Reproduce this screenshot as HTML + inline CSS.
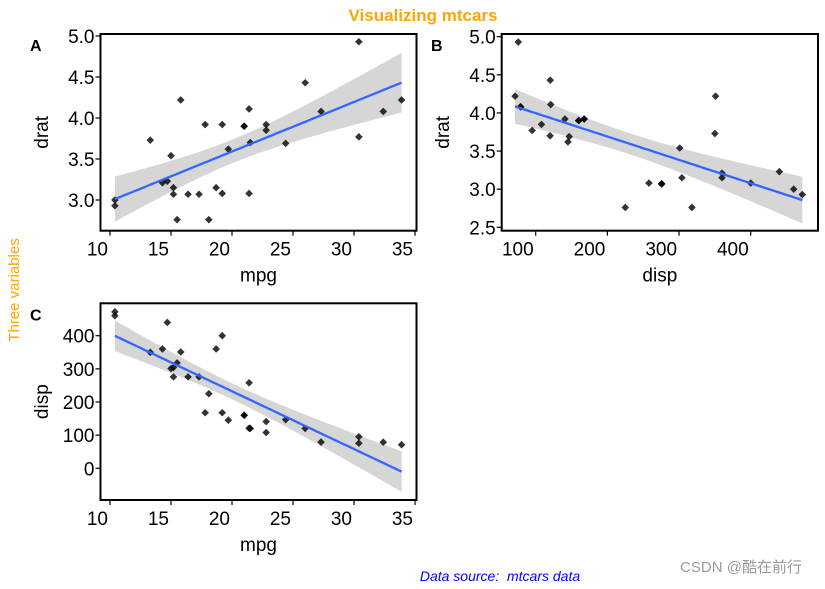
<!DOCTYPE html>
<html><head><meta charset="utf-8"><style>
body{margin:0;background:#fff;width:825px;height:584px;overflow:hidden;font-family:"Liberation Sans",sans-serif}
svg text{font-family:"Liberation Sans","Noto Sans CJK SC",sans-serif}
</style></head><body>
<svg id="chart" width="825" height="584" xmlns="http://www.w3.org/2000/svg">
<text x="423" y="21" text-anchor="middle" font-size="17" font-weight="bold" fill="#FFA500">Visualizing mtcars</text>
<text transform="translate(19,290) rotate(-90)" text-anchor="middle" font-size="15" fill="#FFA500">Three variables</text>
<text x="500" y="581" text-anchor="middle" font-size="14" font-style="italic" fill="#0000FF" xml:space="preserve">Data source:  mtcars data</text>
<text x="741" y="572" text-anchor="middle" font-size="15" fill="#999">CSDN @酷在前行</text>
</svg>
<script>
const mpg=[21.0,21.0,22.8,21.4,18.7,18.1,14.3,24.4,22.8,19.2,17.8,16.4,17.3,15.2,10.4,10.4,14.7,32.4,30.4,33.9,21.5,15.5,15.2,13.3,19.2,27.3,26.0,30.4,15.8,19.7,15.0,21.4];
const disp=[160,160,108,258,360,225,360,146.7,140.8,167.6,167.6,275.8,275.8,275.8,472,460,440,78.7,75.7,71.1,120.1,318,304,350,400,79,120.3,95.1,351,145,301,121];
const drat=[3.90,3.90,3.85,3.08,3.15,2.76,3.21,3.69,3.92,3.92,3.92,3.07,3.07,3.07,2.93,3.00,3.23,4.08,4.93,4.22,3.70,2.76,3.15,3.73,3.08,4.08,4.43,3.77,4.22,3.62,3.54,4.11];
const ticksMpg=[10,15,20,25,30,35];
const ticksDrat=[3.0,3.5,4.0,4.5,5.0];
const ticksDratB=[2.5,3.0,3.5,4.0,4.5,5.0];
const ticksDisp=[100,200,300,400];
const ticksDispY=[0,100,200,300,400];
const NS="http://www.w3.org/2000/svg";
const svg=document.getElementById('chart');
function el(t,a,p){const e=document.createElementNS(NS,t);for(const k in a)e.setAttribute(k,a[k]);(p||svg).appendChild(e);return e;}
function lin(d0,d1,r0,r1){return v=>r0+(v-d0)*(r1-r0)/(d1-d0);}
function panel(cfg){
 const g=el('g',{});
 
 
 const {L,R,T,B}=cfg, sx=cfg.sx, sy=cfg.sy, xs=cfg.x, ys=cfg.y;
 const clip=el('clipPath',{id:'c'+cfg.tag},g);el('rect',{x:L,y:T,width:R-L,height:B-T},clip);
 const n=xs.length,mx=xs.reduce((a,b)=>a+b)/n,my=ys.reduce((a,b)=>a+b)/n;
 let sxx=0,sxy=0;for(let i=0;i<n;i++){sxx+=(xs[i]-mx)**2;sxy+=(xs[i]-mx)*(ys[i]-my);}
 const b=sxy/sxx,a=my-b*mx;let sse=0;for(let i=0;i<n;i++)sse+=(ys[i]-a-b*xs[i])**2;
 const s=Math.sqrt(sse/(n-2)),t=2.042;
 const x0=Math.min(...xs),x1=Math.max(...xs);const up=[],lo=[],ln=[];
 for(let k=0;k<=80;k++){const x=x0+(x1-x0)*k/80,f=a+b*x,se=s*Math.sqrt(1/n+(x-mx)**2/sxx);
  up.push(sx(x).toFixed(1)+','+sy(f+t*se).toFixed(1));lo.unshift(sx(x).toFixed(1)+','+sy(f-t*se).toFixed(1));ln.push(sx(x).toFixed(1)+','+sy(f).toFixed(1));}
 const band=el('polygon',{points:up.concat(lo).join(' '),fill:'#999','fill-opacity':0.4,'clip-path':'url(#c'+cfg.tag+')'},g);
 
 
 for(let i=0;i<n;i++){const px=sx(xs[i]),py=sy(ys[i]);
  const p=el('polygon',{points:`${px},${py-3.8} ${px+3.8},${py} ${px},${py+3.8} ${px-3.8},${py}`,fill:'#000','fill-opacity':0.8},g);
  
  }
 const line=el('polyline',{points:ln.join(' '),fill:'none',stroke:'#3366FF','stroke-width':2.3},g);
 
 
 el('rect',{x:L,y:T,width:R-L,height:B-T,fill:'none',stroke:'#000','stroke-width':2},g);
 cfg.xt.forEach(v=>{const X=sx(v);el('line',{x1:X,x2:X,y1:B,y2:B+5,stroke:'#000','stroke-width':1.2},g);
  const tx=el('text',{x:X-2,y:B+25,'text-anchor':'end','font-size':19,fill:'#000'},g);tx.textContent=cfg.xf(v);
  
  });
 cfg.yt.forEach(v=>{const Y=sy(v);el('line',{x1:L-5,x2:L,y1:Y,y2:Y,stroke:'#000','stroke-width':1.2},g);
  const tx=el('text',{x:L-6,y:Y+7,'text-anchor':'end','font-size':19,fill:'#000'},g);tx.textContent=cfg.yf(v);
  
  });
 const xt=el('text',{x:(L+R)/2,y:B+51,'text-anchor':'middle','font-size':19,fill:'#000'},g);xt.textContent=cfg.xl;
 
 
 const yt=el('text',{transform:`translate(${cfg.ylx},${(T+B)/2}) rotate(-90)`,'text-anchor':'middle','font-size':19,fill:'#000'},g);yt.textContent=cfg.yl;
 
 
 const tg=el('text',{x:cfg.tagx,y:T+17,'font-size':16,'font-weight':'bold',fill:'#000'},g);tg.textContent=cfg.tag;
 
 
}
const f1=v=>v.toFixed(1),f0=v=>String(v);
panel({name:'panel-a',tag:'A',tagx:30,L:100.5,R:416.5,T:34,B:230.7,sx:lin(10,35,110,415),sy:lin(3,5,200,36),x:mpg,y:drat,xt:ticksMpg,yt:ticksDrat,xf:f0,yf:f1,xl:'mpg',yl:'drat',ylx:48});
panel({name:'panel-b',tag:'B',tagx:431,L:501.7,R:818,T:34,B:230.7,sx:lin(100,400,535.7,750.7),sy:lin(2.5,5,227.3,36.7),x:disp,y:drat,xt:ticksDisp,yt:ticksDratB,xf:f0,yf:f1,xl:'disp',yl:'drat',ylx:449});
panel({name:'panel-c',tag:'C',tagx:30,L:100.5,R:416.5,T:303.3,B:500,sx:lin(10,35,110,415),sy:lin(0,400,468.3,335.7),x:mpg,y:disp,xt:ticksMpg,yt:ticksDispY,xf:f0,yf:f0,xl:'mpg',yl:'disp',ylx:48});
</script>
</body></html>
